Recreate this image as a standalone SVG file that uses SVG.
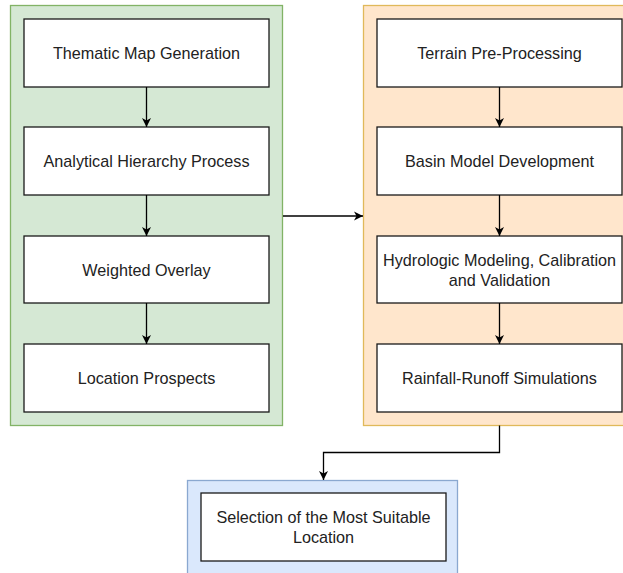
<svg xmlns="http://www.w3.org/2000/svg" width="623" height="573" viewBox="0 0 623 573">
<style>
.box{fill:#ffffff;stroke:#1a1a1a;stroke-width:1.3}
.t{font-family:"Liberation Sans",Arial,sans-serif;font-size:16.2px;fill:#222;text-anchor:middle;dominant-baseline:central}
.c{fill:none;stroke:#000;stroke-width:1.3}
</style>
<defs>
<marker id="ah" markerWidth="10" markerHeight="10" refX="9" refY="5" orient="auto" markerUnits="userSpaceOnUse">
<path d="M0,0.5 L9,5 L0,9.5 L2.5,5 Z" fill="#000"/>
</marker>
</defs>
<g id="group-green"><rect x="10.5" y="5.5" width="272" height="420" fill="#d5e8d4" stroke="#82b366" stroke-width="1.3"/></g>
<g id="group-orange"><rect x="363.5" y="5.5" width="270" height="420" fill="#ffe6cc" stroke="#e0b95a" stroke-width="1.3"/></g>
<g id="group-blue"><rect x="187.5" y="480.5" width="270" height="100" fill="#dae8fc" stroke="#8aa8d0" stroke-width="1.3"/></g>

<g id="n1"><rect class="box" x="24" y="19" width="245" height="68"/><text class="t" x="146.5" y="53">Thematic Map Generation</text></g>
<g id="n2"><rect class="box" x="24" y="127" width="245" height="68"/><text class="t" x="146.5" y="161">Analytical Hierarchy Process</text></g>
<g id="n3"><rect class="box" x="24" y="236" width="245" height="67"/><text class="t" x="146.5" y="269.5">Weighted Overlay</text></g>
<g id="n4"><rect class="box" x="24" y="344" width="245" height="68"/><text class="t" x="146.5" y="378">Location Prospects</text></g>

<g id="n5"><rect class="box" x="377" y="19" width="245" height="68"/><text class="t" x="499.5" y="53">Terrain Pre-Processing</text></g>
<g id="n6"><rect class="box" x="377" y="127" width="245" height="68"/><text class="t" x="499.5" y="161">Basin Model Development</text></g>
<g id="n7"><rect class="box" x="377" y="236" width="245" height="67"/><text class="t" x="499.5" y="260">Hydrologic Modeling, Calibration</text><text class="t" x="499.5" y="279.5">and Validation</text></g>
<g id="n8"><rect class="box" x="377" y="344" width="245" height="68"/><text class="t" x="499.5" y="378">Rainfall-Runoff Simulations</text></g>

<g id="n9"><rect class="box" x="201" y="493" width="245" height="68"/><text class="t" x="323.5" y="517">Selection of the Most Suitable</text><text class="t" x="323.5" y="537">Location</text></g>

<g id="connectors">
<path class="c" d="M146.5,87 V127" marker-end="url(#ah)"/>
<path class="c" d="M146.5,195 V236" marker-end="url(#ah)"/>
<path class="c" d="M146.5,303 V344" marker-end="url(#ah)"/>
<path class="c" d="M499.5,87 V127" marker-end="url(#ah)"/>
<path class="c" d="M499.5,195 V236" marker-end="url(#ah)"/>
<path class="c" d="M499.5,303 V344" marker-end="url(#ah)"/>
<path class="c" d="M283,216 H363" marker-end="url(#ah)"/>
<path class="c" d="M499.5,425.5 V452.5 H323.5 V480" marker-end="url(#ah)"/>
</g>
</svg>
